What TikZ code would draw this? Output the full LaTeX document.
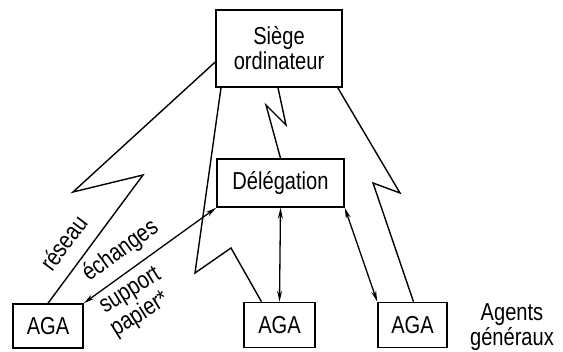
\documentclass[tikz,border=0pt]{standalone}
\usepackage{fontspec}
\setmainfont{Liberation Sans}[FakeStretch=0.82]
\usetikzlibrary{arrows.meta}
\begin{document}
\begin{tikzpicture}[x=1pt,y=-1pt,
  txt/.style={font=\fontsize{24.5}{25}\selectfont},
  box/.style={txt,draw,line width=1.5pt,inner sep=0pt,align=center},
  bolt/.style={draw,line width=1.4pt,line join=miter},
  link/.style={line width=1.3pt,{Stealth[length=11pt,width=5pt]}-{Stealth[length=11pt,width=5pt]}},
  lbl/.style={txt,inner sep=0pt,anchor=base west}]
  \useasboundingbox (0,0) rectangle (563,352);

  % boxes
  \node[box,minimum width=126pt,minimum height=77pt] (siege) at (279,48.5) {Siège\\ordinateur};
  \node[box,minimum width=127pt,minimum height=48pt] (deleg) at (280.5,183) {Délégation};
  \node[box,minimum width=70pt,minimum height=44pt] (aga1) at (48,326) {AGA};
  \node[box,minimum width=71pt,minimum height=45pt] (aga2) at (279.5,325) {AGA};
  \node[box,minimum width=69pt,minimum height=45pt] (aga3) at (412.5,325) {AGA};
  \node[txt,inner sep=0pt,align=center] (agents) at (512,327) {Agents\\généraux};

  % network links (zig-zag)
  \draw[bolt] ([yshift=-13.5pt]siege.west) -- (73,192) -- (143,175) -- (aga1.north);
  \draw[bolt] ([xshift=-58pt]siege.south) -- (195,273) -- (231,248) -- ([xshift=-18pt]aga2.north);
  \draw[bolt] ([xshift=-1pt]siege.south) -- (286,125) -- (266,105) -- (deleg.north);
  \draw[bolt] ([xshift=-5pt]siege.south east) -- (400,193) -- (373,183) -- ([xshift=1pt]aga3.north);

  % paper exchanges
  \draw[link] (deleg.south west) -- (aga1.north east);
  \draw[link] (deleg.south) -- (aga2.north);
  \draw[link] (deleg.south east) -- (aga3.north west);

  % labels along the links
  \node[lbl,rotate=53] (reseau) at (52,273) {réseau};
  \node[lbl,rotate=36] (ech) at (89,282) {échanges};
  \node[lbl,rotate=32] (supp) at (105,314) {support};
  \node[lbl,rotate=32] (pap) at (116,337) {papier*};
\end{tikzpicture}
\end{document}
